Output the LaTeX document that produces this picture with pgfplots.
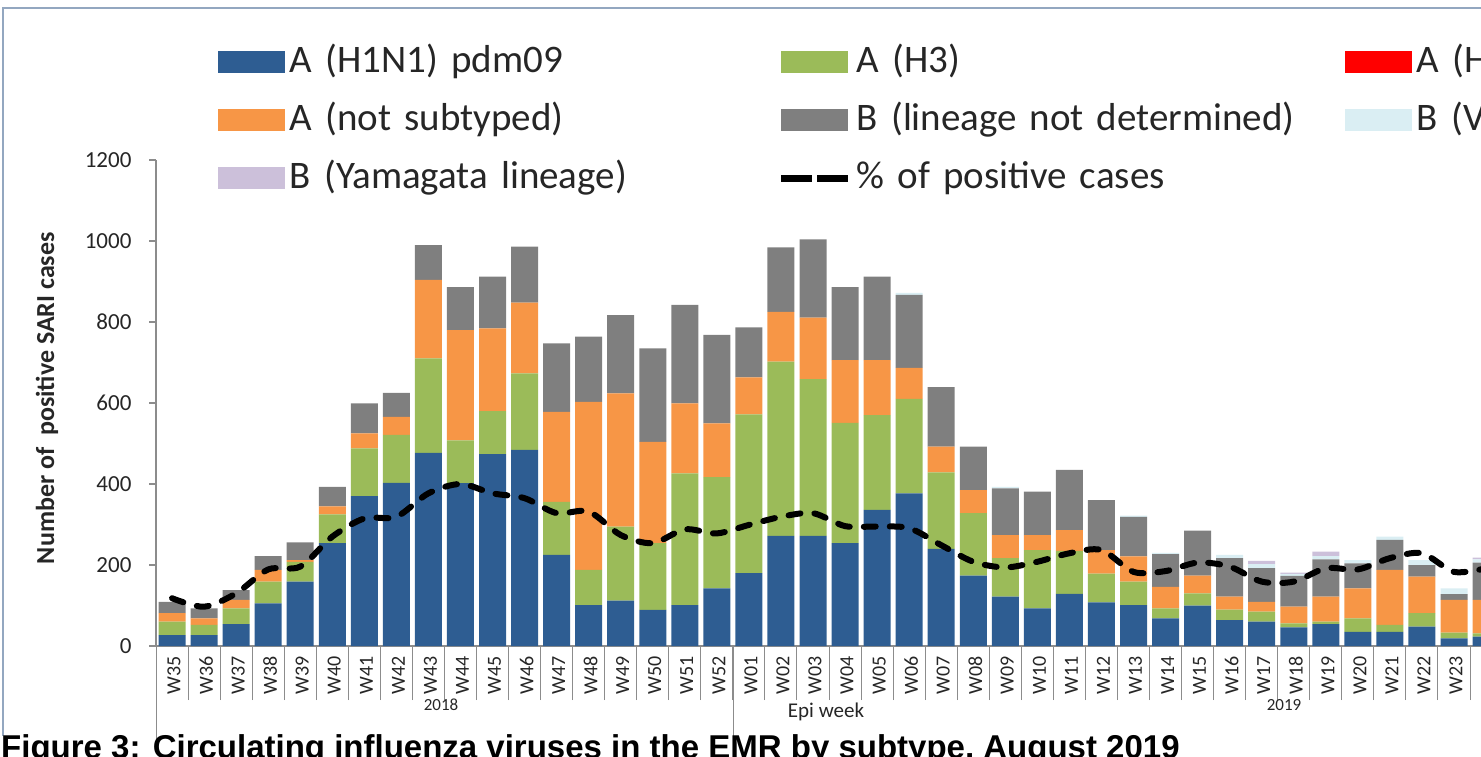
\documentclass[border=0pt]{standalone}
\usepackage{fontspec}
\setmainfont{Carlito}
\newfontfamily\capfont{Liberation Sans}
\usepackage{pgfplots}
\pgfplotsset{compat=1.18}
\usepackage{pgfplotstable}

\definecolor{cH1}{HTML}{2E5D92}
\definecolor{cH3}{HTML}{9BBB59}
\definecolor{cH5}{HTML}{FF0000}
\definecolor{cNS}{HTML}{F79646}
\definecolor{cBN}{HTML}{7F7F7F}
\definecolor{cVic}{HTML}{DAEEF3}
\definecolor{cYam}{HTML}{CCC0DA}
\definecolor{axisgray}{HTML}{8C8C8C}
\definecolor{framecol}{HTML}{93A7C0}
\definecolor{txt}{HTML}{262626}

\pgfplotstableread{
idx lab blue green red orange gray vic yam pct
0  W35 27  33  0 21  28  0  0 118
1  W36 27  25  0 16  25  0  0 97
2  W37 54  39  0 21  24  0  0 130
3  W38 105 54  0 29  34  0  0 189
4  W39 159 49  0 4   44  0  0 196
5  W40 254 71  0 20  48  0  0 270
6  W41 370 118 0 37  74  0  0 315
7  W42 403 118 0 45  59  0  0 319
8  W43 477 233 0 194 86  0  0 377
9  W44 402 106 0 272 106 0  0 400
10 W45 474 106 0 204 128 0  0 377
11 W46 484 189 0 175 138 0  0 365
12 W47 225 131 0 222 169 0  0 328
13 W48 101 87  0 415 161 0  0 332
14 W49 112 183 0 329 193 0  0 274
15 W50 89  165 0 250 231 0  0 254
16 W51 101 325 0 173 243 0  0 288
17 W52 142 275 0 133 218 0  0 278
18 W01 180 392 0 91  124 0  0 299
19 W02 272 430 0 123 159 0  0 319
20 W03 272 387 0 152 193 0  0 328
21 W04 254 297 0 155 180 0  0 296
22 W05 336 234 0 136 206 0  0 295
23 W06 377 233 0 77  180 5  0 291
24 W07 240 189 0 63  147 0  0 249
25 W08 174 154 0 57  107 0  0 208
26 W09 122 95  0 57  115 4  0 194
27 W10 93  144 0 37  107 0  0 208
28 W11 129 106 0 51  149 0  0 229
29 W12 108 71  0 58  123 0  0 237
30 W13 101 58  0 62  98  3  0 183
31 W14 68  25  0 53  81  3  0 185
32 W15 100 30  0 44  111 0  0 206
33 W16 64  26  0 32  95  8  0 196
34 W17 60  25  0 24  83  10 8 159
35 W18 46  10  0 41  76  5  3 159
36 W19 54  6   0 62  92  8  11 192
37 W20 35  33  0 74  62  8  0 189
38 W21 35  17  0 136 74  8  0 217
39 W22 48  33  0 90  29  12 0 229
40 W23 19  14  0 81  14  14 0 183
41 W24 23  8   0 83  92  8  4 192
}\datatable

\begin{document}
\begin{tikzpicture}
% chart frame
\draw[framecol, line width=2pt] (3pt,20pt) -- (3pt,748pt) -- (1490pt,748pt);

\begin{axis}[
  at={(156pt,110pt)}, anchor=south west, scale only axis,
  width=1442.25pt, height=486pt,
  xmin=-0.5, xmax=44.5, ymin=0, ymax=1200,
  ybar stacked, bar width=27pt,
  axis x line*=bottom, axis y line*=left,
  axis line style={draw=axisgray, line width=1.2pt},
  xtick={0,...,41},
  xticklabels from table={\datatable}{lab},
  major x tick style={draw=none},
  minor xtick={-0.5,0.5,...,44.5},
  minor tick length=54pt,
  minor x tick style={draw=axisgray, line width=1pt},
  tick align=outside,
  ytick={0,200,...,1200},
  major tick length=7pt,
  ytick style={draw=axisgray, line width=1.2pt},
  xticklabel style={rotate=90, anchor=east, font=\fontsize{20}{20}\selectfont, text=txt, yshift=-2pt},
  yticklabel style={font=\fontsize{23}{23}\selectfont, text=txt, xshift=-14pt},
  /pgf/number format/assume math mode=true,
  /pgf/number format/1000 sep={},
  scaled y ticks=false,
  every axis y label/.style={at={(axis description cs:-0.0755,0.51)}, rotate=90, anchor=center},
  ylabel={\bfseries Number of\ \ positive SARI cases},
  ylabel style={font=\fontsize{26}{26}\selectfont, text=txt},
  legend columns=3,
  legend cell align=left,
  legend image code/.code={\fill[#1] (0pt,-11pt) rectangle (67pt,11pt);},
  legend style={draw=none, fill=none, at={(axis description cs:0.04299,1.2406)}, anchor=north west,
    inner sep=0pt, outer sep=0pt, row sep=20pt,
    font=\fontsize{39}{39}\selectfont, text=txt,
    nodes={text width=488pt, align=left, inner sep=0pt, text height=29pt, text depth=9pt},
    /tikz/every odd column/.append style={column sep=5pt}},
]
\addplot[fill=cH1, draw=none] table[x=idx, y=blue] {\datatable};
\addlegendentry{A (H1N1) pdm09}
\addplot[fill=cH3, draw=none] table[x=idx, y=green] {\datatable};
\addlegendentry{A (H3)}
\addplot[fill=cH5, draw=none] table[x=idx, y=red] {\datatable};
\addlegendentry{A (H5)}
\addplot[fill=cNS, draw=none] table[x=idx, y=orange] {\datatable};
\addlegendentry{A (not subtyped)}
\addplot[fill=cBN, draw=none] table[x=idx, y=gray] {\datatable};
\addlegendentry{B (lineage not determined)}
\addplot[fill=cVic, draw=none] table[x=idx, y=vic] {\datatable};
\addlegendentry{B (Victoria lineage)}
\addplot[fill=cYam, draw=none] table[x=idx, y=yam] {\datatable};
\addlegendentry{B (Yamagata lineage)}
\addlegendimage{legend image code/.code={\draw[black, line width=7pt, dash pattern=on 31pt off 5pt] (0pt,0pt) -- (67pt,0pt);}}
\addlegendentry{\% of positive cases}
\end{axis}

\begin{axis}[
  at={(156pt,110pt)}, anchor=south west, scale only axis,
  width=1442.25pt, height=486pt,
  xmin=-0.5, xmax=44.5, ymin=0, ymax=1200,
  hide axis,
]
\addplot[black, line width=6pt, dash pattern=on 12pt off 14pt, line cap=round, smooth] table[x=idx, y=pct] {\datatable};
\end{axis}

% long separators of the category axis
\draw[axisgray, line width=1pt] (156pt,110pt) -- (156pt,12pt);
\draw[axisgray, line width=1pt] (733pt,110pt) -- (733pt,12pt);

\node[font=\fontsize{17}{17}\selectfont, text=txt] at (441pt,51pt) {2018};
\node[font=\fontsize{17}{17}\selectfont, text=txt] at (1284pt,51pt) {2019};
\node[font=\fontsize{21}{21}\selectfont, text=txt] at (826pt,44pt) {Epi week};

\node[anchor=base west, inner sep=0pt, font=\capfont\bfseries\fontsize{33}{33}\selectfont] at (1pt,-2pt) {Figure 3: Circulating influenza viruses in the EMR by subtype, August 2019};

\pgfresetboundingbox
\useasboundingbox (0pt,0pt) rectangle (1481pt,756pt);
\end{tikzpicture}
\end{document}
